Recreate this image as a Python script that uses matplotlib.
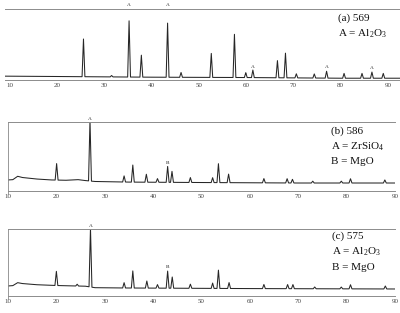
import numpy as np
import matplotlib
matplotlib.use('Agg')
from matplotlib import pyplot as plt

plt.rcParams['font.family'] = ['Liberation Serif', 'DejaVu Serif']
plt.rcParams['mathtext.fontset'] = 'custom'
plt.rcParams['mathtext.rm'] = 'Liberation Serif'

# (a) 569 : peak positions (2theta, deg) and heights above background (a.u.)
pos_a = [25.55, 31.5, 35.2, 37.8, 43.35, 46.2, 52.6, 57.5, 59.9, 61.4,
         66.6, 68.3, 70.6, 74.4, 77.0, 80.7, 84.5, 86.6, 89.0]
hgt_a = [55, 2, 82, 32, 79, 7, 35, 63, 7, 11, 25, 36, 6, 6, 10, 7, 7, 9, 7]
bg_x_a = [8.9, 20, 40, 60, 80, 92.5]
bg_y_a = [2, 1.5, 0.5, 0, -1, -1]
tags_a = [(35.2, 'A', 103), (43.35, 'A', 103), (61.4, 'A', 13), (77.0, 'A', 12),
          (86.6, 'A', 11)]

# (b) 586
pos_b = [20.05, 26.95, 34.0, 35.8, 38.6, 40.9, 43.0, 43.9, 47.7, 52.3, 53.5,
         55.6, 62.9, 67.7, 68.8, 73.0, 78.9, 80.8, 87.9]
hgt_b = [27, 100, 10, 28, 13, 6, 26, 18, 8, 8, 31, 14, 7, 7, 6, 3, 3, 7, 5]
bg_x_b = [10, 11, 12, 13, 16, 19, 22, 24.5, 26, 28, 35, 50, 70, 90]
bg_y_b = [5, 5.5, 11, 9, 6.5, 5, 4.5, 5.5, 4, 2.5, 1.5, 0.8, 0, 0]
tags_b = [(26.95, 'A', 102), (43.0, 'B', 30)]

# (c) 575
pos_c = [20.0, 24.3, 27.05, 34.0, 35.8, 38.7, 40.9, 43.0, 43.95, 47.7, 52.3,
         53.5, 55.7, 62.9, 67.8, 68.9, 73.4, 78.9, 80.8, 88.0]
hgt_c = [24, 3, 100, 9, 29, 12, 6, 29, 19, 7, 9, 31, 10, 7, 7, 7, 3, 3, 7, 5]
bg_x_c = [10, 11, 12, 13, 16, 20, 24, 26, 28, 34, 60, 90]
bg_y_c = [3.4, 4, 9, 7.5, 5.5, 4.2, 3.4, 3, 0.5, 0, -1, -1.7]
tags_c = [(27.05, 'A', 102), (43.0, 'B', 32)]

panels = [
    dict(pos=pos_a, hgt=hgt_a, bgx=bg_x_a, bgy=bg_y_a, tags=tags_a,
         rect=[5 / 400, 1 - 80 / 313, 395 / 400, 71 / 313],
         xlim=(8.94, 92.54), ylim=(-3.6, 100), left=False,
         title='(a) 569', lines=['A = Al$_2$O$_3$'], tx=338, ty=[18, 34]),
    dict(pos=pos_b, hgt=hgt_b, bgx=bg_x_b, bgy=bg_y_b, tags=tags_b,
         rect=[8 / 400, 1 - 191 / 313, 387 / 400, 69 / 313],
         xlim=(10, 90), ylim=(-13.1, 100), left=True,
         title='(b) 586', lines=['A = ZrSiO$_4$', 'B = MgO'], tx=331,
         ty=[131, 147, 162]),
    dict(pos=pos_c, hgt=hgt_c, bgx=bg_x_c, bgy=bg_y_c, tags=tags_c,
         rect=[8 / 400, 1 - 296 / 313, 387 / 400, 67 / 313],
         xlim=(10, 90), ylim=(-13.6, 100), left=True,
         title='(c) 575', lines=['A = Al$_2$O$_3$', 'B = MgO'], tx=332,
         ty=[236, 252, 267]),
]

fig = plt.figure(figsize=(4, 3.13), dpi=100)
w = 0.3  # half width of drawn peaks

for p in panels:
    ax = fig.add_axes(p['rect'])
    pos = np.array(p['pos'])
    hgt = np.array(p['hgt'])
    nodes = np.concatenate([p['bgx'], pos - w, pos, pos + w])
    xs = np.sort(nodes)
    ys = np.interp(xs, p['bgx'], p['bgy'])
    for x0, h in zip(pos, hgt):
        ys = ys + h * np.clip(1 - np.abs(xs - x0) / w, 0, None)
    ax.plot(xs, ys, color='#262626', lw=0.75)
    for x0, t, yv in p['tags']:
        ax.text(x0, yv, t, fontsize=3.8, ha='center', va='bottom',
                color='#222222', clip_on=False)
    ax.set_xlim(*p['xlim'])
    ax.set_ylim(*p['ylim'])
    ax.set_xticks(range(10, 100, 10))
    ax.set_xticklabels([str(v) for v in range(10, 100, 10)])
    ax.set_yticks([])
    ax.tick_params(axis='x', length=0, pad=2, labelsize=5,
                   labelcolor='#444444')
    for s in ['top', 'bottom']:
        ax.spines[s].set_color('#8c8c8c')
        ax.spines[s].set_linewidth(0.7)
        ax.spines[s].set_linestyle((0, (3, 1)))
    ax.spines['right'].set_visible(False)
    ax.spines['left'].set_visible(p['left'])
    ax.spines['left'].set_color('#888888')
    ax.spines['left'].set_linewidth(0.6)
    ax.spines['left'].set_bounds(p['ylim'][0] - 5, 100)
    ax.patch.set_alpha(0)

    texts = [p['title']] + p['lines']
    for t, y in zip(texts, p['ty']):
        fig.text(p['tx'] / 400, 1 - y / 313, t, fontsize=8, ha='left',
                 va='center', color='#111111')

fig.savefig('out.png', dpi=100)
